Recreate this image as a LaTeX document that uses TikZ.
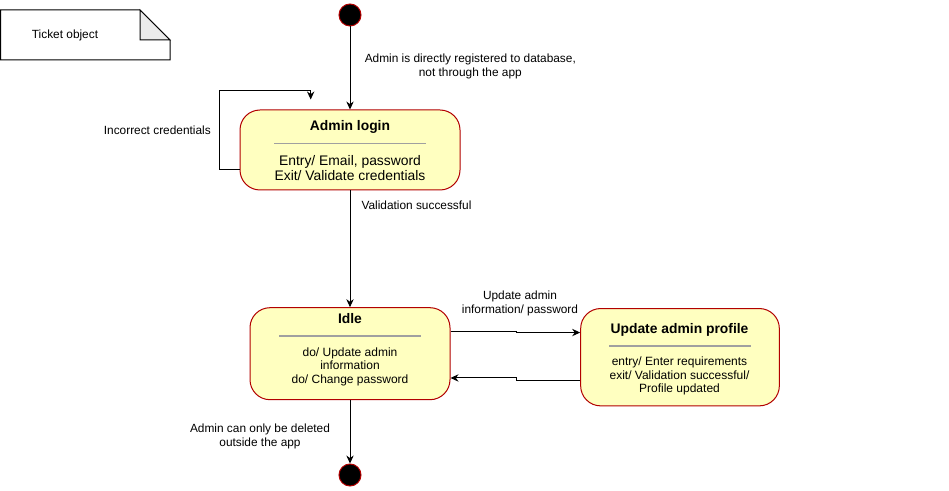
\documentclass[tikz,border=0pt]{standalone}
\usepackage{fontspec}
\setmainfont{Liberation Sans}
\usetikzlibrary{arrows.meta}
\definecolor{statefill}{RGB}{255,255,192}
\definecolor{statedraw}{RGB}{178,0,0}
\definecolor{foldgray}{RGB}{235,235,235}
\definecolor{sepgray}{RGB}{160,160,160}
\tikzset{every picture/.style={line width=0.75pt}}
\tikzset{
  state/.style={draw=statedraw, fill=statefill, rounded corners=15pt, inner sep=0pt},
  pseudo/.style={circle, draw=statedraw, fill=black, minimum size=16.5pt, inner sep=0pt},
  trans/.style={-{Stealth[length=6pt,width=5.5pt]}, line width=0.75pt},
  lbl/.style={font=\fontsize{8.9}{10.5}\selectfont, align=center, inner sep=0pt},
  title/.style={font=\fontsize{10.4}{12}\selectfont\bfseries, inner sep=0pt},
  body/.style={align=center, inner sep=0pt},
  sep/.style={draw=sepgray, line width=0.9pt}
}

\begin{document}
\begin{tikzpicture}[x=0.75pt,y=0.75pt,yscale=-1,xscale=1]
\useasboundingbox (0,0) rectangle (949,491);

%Shape: Note
\draw [fill=white] (0.5,10) -- (140,10) -- (170,40) -- (170,60) -- (0.5,60) -- cycle ;
\draw [fill=foldgray] (140,10) -- (140,40) -- (170,40) -- cycle ;
% Text Node
\node (ticket) at (65,35) [lbl] {Ticket object};

%Initial and final states
\node (start) at (350,15) [pseudo] {};
\node (end) at (350,475) [pseudo] {};

%States
\node (login) at (350,150) [state, minimum width=165pt, minimum height=60pt] {};
\node (idle) at (350,353.7) [state, minimum width=150pt, minimum height=69pt] {};
\node (upd) at (680,357.2) [state, minimum width=149pt, minimum height=73pt] {};

% Admin login compartments
\node (logintitle) at (350,126.8) [title] {Admin login};
\draw [sep] (274.3,143.3) -- (425.7,143.3) ;
\node (loginbody) at (350,168) [body, font=\fontsize{10.4}{11}\selectfont] {Entry/ Email, password\\Exit/ Validate credentials};

% Idle compartments
\node (idletitle) at (350,319) [title] {Idle};
\draw [sep] (279,336) -- (420.7,336) ;
\node (idlebody) at (350,366.5) [body, font=\fontsize{9}{10.2}\selectfont] {do/ Update admin\\information\\do/ Change password};

% Update admin profile compartments
\node (updtitle) at (679.5,329.5) [title] {Update admin profile};
\draw [sep] (609.3,346) -- (750.7,346) ;
\node (updbody) at (679.5,376) [body, font=\fontsize{9}{10.2}\selectfont] {entry/ Enter requirements\\exit/ Validation successful/\\Profile updated};

%Transitions
\draw [trans] (start) -- (login) ;
\draw [trans] (login) -- (idle) ;
\draw [trans] (idle) -- (end) ;
\coordinate (loopend) at (310.7,99.5);
\draw [trans] ([yshift=15pt]login.west) -- ++(-20,0) |- (310.7,90.3) -- (loopend) ;
\draw [trans] ([yshift=-17pt]idle.east) -- ++(66,0) |- ([yshift=-18.5pt]upd.west) ;
\draw [trans] ([yshift=17.6pt]upd.west) -- ++(-64,0) |- ([yshift=18.2pt]idle.east) ;

% Text Node
\node (lblreg) at (470.3,66.5) [lbl] {Admin is directly registered to database,\\not through the app};
% Text Node
\node (lblinc) at (157.3,130) [lbl] {Incorrect credentials};
% Text Node
\node (lblval) at (416.5,205.5) [lbl] {Validation successful};
% Text Node
\node (lblupd) at (520,303.5) [lbl] {Update admin\\information/ password};
% Text Node
\node (lbldel) at (260,436) [lbl] {Admin can only be deleted\\outside the app};

\end{tikzpicture}
\end{document}
